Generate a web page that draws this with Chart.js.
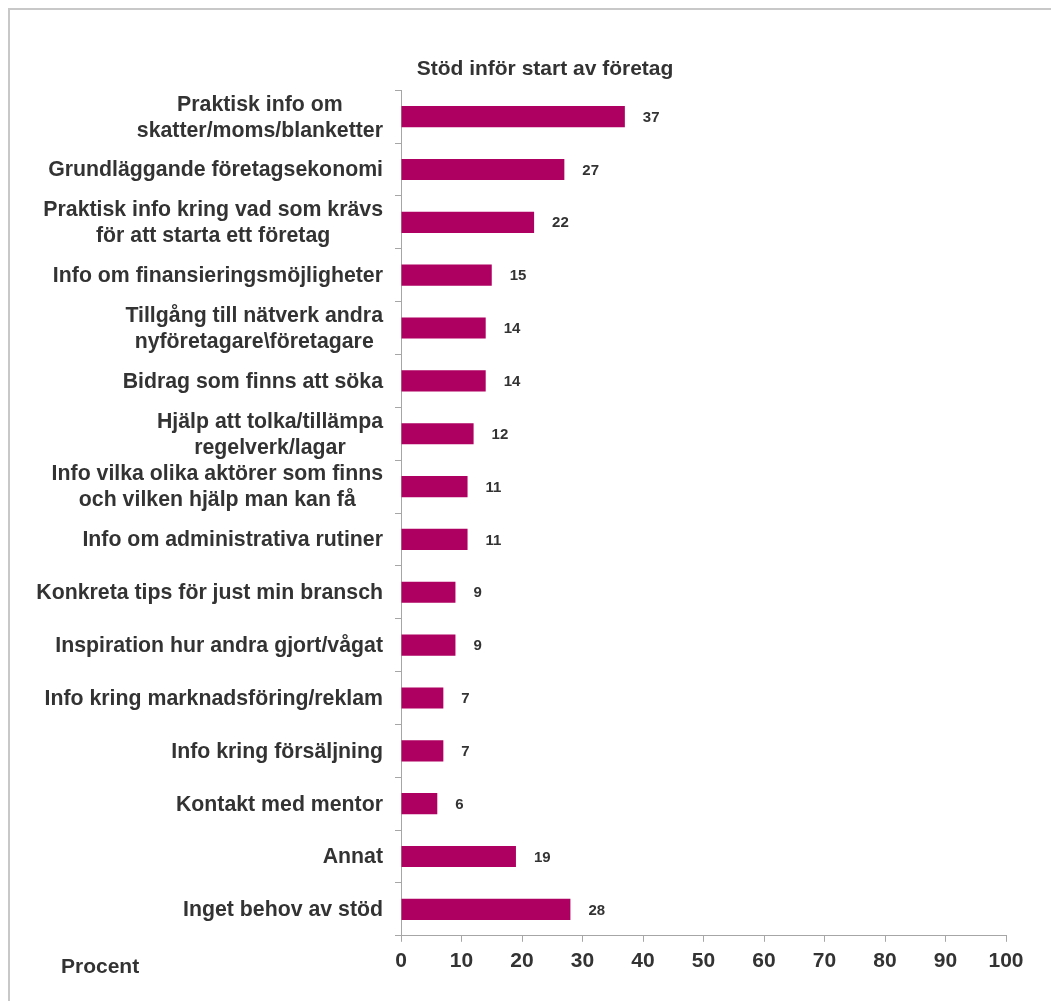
<!DOCTYPE html>
<html lang="sv">
<head>
<meta charset="utf-8">
<title>Stöd inför start av företag</title>
<script src="https://cdn.jsdelivr.net/npm/chart.js@4/dist/chart.umd.min.js"></script>
<style>
  html, body { margin: 0; padding: 0; overflow: hidden; background: #fff; }
  .frame {
    position: absolute; left: 8px; top: 8px; width: 1200px; height: 1200px;
    border: 2px solid #c8c8c8; box-sizing: border-box;
  }
  .wrap { position: absolute; left: 0; top: 0; width: 1051px; height: 1001px; }
</style>
</head>
<body>
<div class="frame"></div>
<div class="wrap"><canvas id="stodChart"></canvas></div>
<script>
// Kategorier (radbrytningar som i originalet)
const categories = [
    ["Praktisk info om", "skatter/moms/blanketter"],
    ["Grundläggande företagsekonomi"],
    ["Praktisk info kring vad som krävs", "för att starta ett företag"],
    ["Info om finansieringsmöjligheter"],
    ["Tillgång till nätverk andra", "nyföretagare\\företagare"],
    ["Bidrag som finns att söka"],
    ["Hjälp att tolka/tillämpa", "regelverk/lagar"],
    ["Info vilka olika aktörer som finns", "och vilken hjälp man kan få"],
    ["Info om administrativa rutiner"],
    ["Konkreta tips för just min bransch"],
    ["Inspiration hur andra gjort/vågat"],
    ["Info kring marknadsföring/reklam"],
    ["Info kring försäljning"],
    ["Kontakt med mentor"],
    ["Annat"],
    ["Inget behov av stöd"],
];

// Andel i procent
const values = [37, 27, 22, 15, 14, 14, 12, 11, 11, 9, 9, 7, 7, 6, 19, 28];

// Skala på x-axeln
const xTicks = [0, 10, 20, 30, 40, 50, 60, 70, 80, 90, 100];

const FONT = "'Liberation Sans', Arial, Helvetica, sans-serif";
const TEXT = "#333333";
const AXIS = "#a6a6a6";

Chart.defaults.font.family = FONT;
Chart.defaults.color = TEXT;

// Ritar kategorietiketter, värden och "Procent"
const textPlugin = {
    id: "textPlugin",
    afterDraw(chart) {
        const ctx = chart.ctx;
        const yScale = chart.scales.y;
        const xScale = chart.scales.x;
        const area = chart.chartArea;
        ctx.save();
        ctx.fillStyle = TEXT;
        ctx.textBaseline = "middle";

        // Kategorier: rader centrerade mot varandra, blocket högerställt
        ctx.font = "bold 21.3px " + FONT;
        ctx.textAlign = "center";
        categories.forEach((lines, i) => {
            const cy = yScale.getPixelForTick(i);
            const maxW = Math.max(...lines.map((l) => ctx.measureText(l).width));
            const cx = area.left - 18 - maxW / 2;
            lines.forEach((l, k) => {
                ctx.fillText(l, cx, cy + (k - (lines.length - 1) / 2) * 26 + 1);
            });
        });

        // Värden till höger om staplarna
        ctx.font = "bold 15px " + FONT;
        ctx.textAlign = "left";
        chart.getDatasetMeta(0).data.forEach((bar, i) => {
            ctx.fillText(String(values[i]), bar.x + 18, bar.y + 1);
        });

        // Enhet
        ctx.font = "bold 21px " + FONT;
        ctx.fillText("Procent", 61, xScale.top + 31);
        ctx.restore();
    },
};

const ctx = document.getElementById("stodChart").getContext("2d");

new Chart(ctx, {
    type: "bar",
    data: {
        labels: categories.map((c) => c.join(" ")),
        datasets: [
            {
                data: values,
                backgroundColor: "#ae0060",
                borderWidth: 0,
                barPercentage: 0.4,
                categoryPercentage: 1.0,
            },
        ],
    },
    options: {
        indexAxis: "y",
        responsive: true,
        maintainAspectRatio: false,
        animation: false,
        layout: {
            padding: { left: 84, right: 45, top: 43, bottom: 20 },
        },
        plugins: {
            legend: { display: false },
            tooltip: { enabled: false },
            title: {
                display: true,
                text: "Stöd inför start av företag",
                color: TEXT,
                font: { size: 21, weight: "bold" },
                padding: { top: 14, bottom: 8 },
            },
        },
        scales: {
            x: {
                min: 0,
                max: 100,
                afterBuildTicks: (scale) => {
                    scale.ticks = xTicks.map((v) => ({ value: v }));
                },
                grid: {
                    drawOnChartArea: false,
                    drawTicks: true,
                    tickLength: 6,
                    color: AXIS,
                },
                border: { color: AXIS, width: 1 },
                ticks: {
                    color: TEXT,
                    font: { size: 21, weight: "bold" },
                    padding: 7,
                    maxRotation: 0,
                },
            },
            y: {
                afterFit: (scale) => {
                    scale.width = 317;
                },
                grid: {
                    offset: true,
                    drawOnChartArea: false,
                    drawTicks: true,
                    tickLength: 6,
                    color: AXIS,
                },
                border: { color: AXIS, width: 1 },
                ticks: { display: false },
            },
        },
    },
    plugins: [textPlugin],
});
</script>
</body>
</html>
